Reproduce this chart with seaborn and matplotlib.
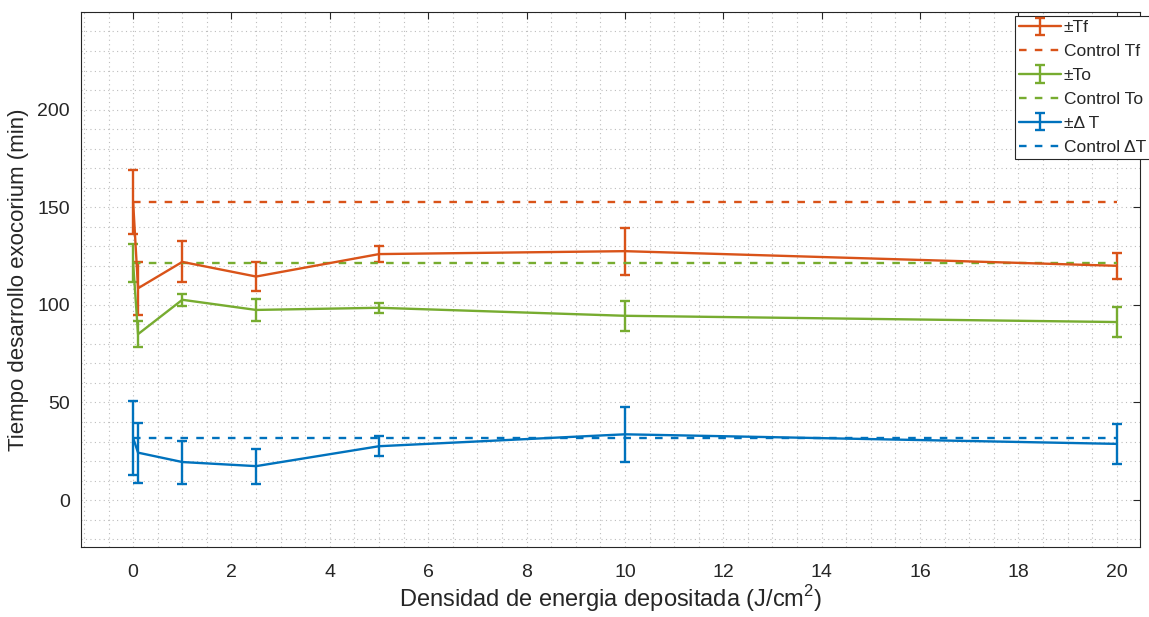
import numpy as np
import pandas as pd
import matplotlib
matplotlib.use("Agg")
import matplotlib.pyplot as plt
from matplotlib.ticker import MultipleLocator
import seaborn as sns

# Energy density (J/cm^2)
dose = [0, 0.1, 1, 2.5, 5, 10, 20]

# Final time Tf (min): mean and error
tf_mean = [152.6, 108.5, 122.0, 114.5, 126.0, 127.5, 120.0]
tf_err = [16.5, 13.7, 10.5, 7.5, 4.3, 12.1, 6.6]

# Onset time To (min)
to_mean = [121.3, 85.0, 102.6, 97.4, 98.5, 94.4, 91.2]
to_err = [9.7, 6.5, 3.2, 5.8, 2.7, 7.7, 7.9]

# Difference dT (min)
dt_mean = [31.8, 24.3, 19.5, 17.4, 27.6, 33.7, 28.8]
dt_err = [19.0, 15.3, 11.0, 9.0, 5.0, 14.1, 10.3]

# Control levels
ctrl_tf = 152.6
ctrl_to = 121.2
ctrl_dt = 31.8

x_ticks = list(range(0, 21, 2))
y_ticks = [0, 50, 100, 150, 200]

c_tf = "#D95319"
c_to = "#77AC30"
c_dt = "#0072BD"

sns.set_style("white")
plt.rcParams["font.family"] = ["Liberation Sans", "DejaVu Sans"]
plt.rcParams["mathtext.fontset"] = "custom"
plt.rcParams["mathtext.rm"] = "Liberation Sans"

fig = plt.figure(figsize=(11.49, 6.17), dpi=100)
ax = fig.add_axes([0.0705, 0.1135, 0.9215, 0.8671])

lw = 1.7
series = [
    (tf_mean, tf_err, ctrl_tf, c_tf, "±Tf", "Control Tf"),
    (to_mean, to_err, ctrl_to, c_to, "±To", "Control To"),
    (dt_mean, dt_err, ctrl_dt, c_dt, "±Δ T", "Control ΔT"),
]
handles, labels = [], []
for mean, err, ctrl, col, lab, clab in series:
    eb = ax.errorbar(dose, mean, yerr=err, fmt="-", color=col, lw=lw,
                     elinewidth=lw, capsize=3.4, capthick=lw)
    ctrl_df = pd.DataFrame({"x": [dose[0], dose[-1]], "y": [ctrl, ctrl]})
    sns.lineplot(data=ctrl_df, x="x", y="y", ax=ax, color=col, lw=lw,
                 linestyle=(0, (3.2, 3.5)))
    handles += [eb, ax.lines[-1]]
    labels += [lab, clab]

ax.set_xlim(-1.06, 20.47)
ax.set_ylim(-24, 250)
ax.set_xticks(x_ticks)
ax.set_yticks(y_ticks)
ax.xaxis.set_minor_locator(MultipleLocator(0.5))
ax.yaxis.set_minor_locator(MultipleLocator(10))
ax.grid(True, which="both", color="#bdbdbd", linestyle=(0, (1, 3)), lw=0.8)
ax.set_axisbelow(True)

for s in ax.spines.values():
    s.set_color("#262626")
    s.set_linewidth(0.8)
ax.tick_params(which="both", direction="in", top=True, right=True,
               colors="#262626", labelcolor="#262626")
ax.tick_params(which="major", length=5, labelsize=14)
ax.tick_params(axis="x", which="major", pad=12)
ax.tick_params(axis="y", which="major", pad=8)
ax.tick_params(which="minor", length=0)

ax.set_xlabel("Densidad de energia depositada (J/cm$^2$)", fontsize=17,
              color="#262626", labelpad=2)
ax.set_ylabel("Tiempo desarrollo exocorium (min)", fontsize=16,
              color="#262626", labelpad=6)

leg = ax.legend(handles, labels, loc="upper left",
                bbox_to_anchor=(1015 / 1149, 1 - 16 / 617),
                bbox_transform=fig.transFigure, fontsize=12.5,
                frameon=True, fancybox=False, framealpha=1,
                edgecolor="#262626", borderpad=0.25, labelspacing=0.5,
                handlelength=2.4, handletextpad=0.15, borderaxespad=0)
leg.get_frame().set_linewidth(0.8)

fig.savefig("out.png", dpi=100, facecolor="white")
